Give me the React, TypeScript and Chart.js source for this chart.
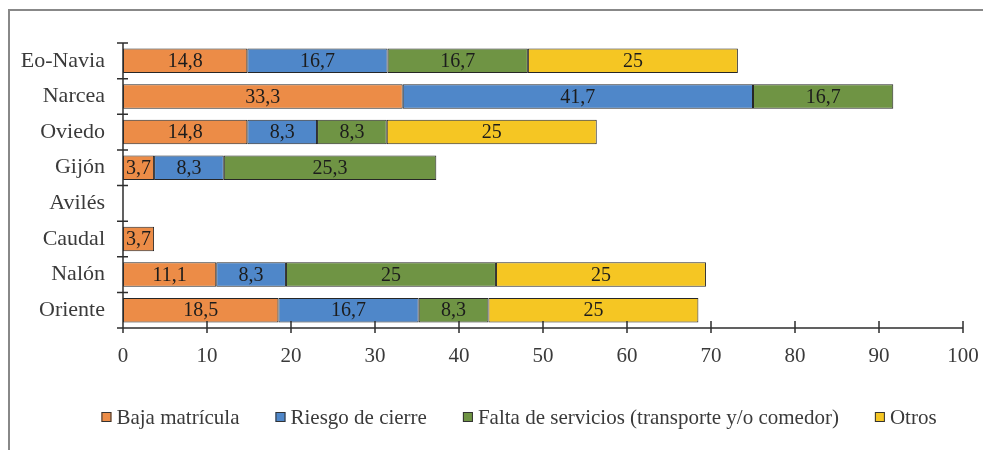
import React, { useEffect, useRef } from "react";
import { Chart, registerables } from "chart.js";
Chart.register(...registerables);

const categories = ["Eo-Navia", "Narcea", "Oviedo", "Gijón", "Avilés", "Caudal", "Nalón", "Oriente"];
const bajaMatricula = [14.8, 33.3, 14.8, 3.7, 0, 3.7, 11.1, 18.5];
const riesgoCierre = [16.7, 41.7, 8.3, 8.3, 0, 0, 8.3, 16.7];
const faltaServicios = [16.7, 16.7, 8.3, 25.3, 0, 0, 25, 8.3];
const otros = [25, 0, 25, 0, 0, 0, 25, 25];
const seriesNames = ["Baja matrícula", "Riesgo de cierre", "Falta de servicios (transporte y/o comedor)", "Otros"];
const seriesValues = [bajaMatricula, riesgoCierre, faltaServicios, otros];
const seriesColors = ["#EC8C47", "#4F87C9", "#6F9444", "#F5C623"];
const xMin = 0;
const xMax = 100;
const xStep = 10;

const FONT = '"Liberation Serif", "Times New Roman", serif';
const TEXT = "#3a3a3a";

const axesPlugin = {
  id: "axesAndLabels",
  afterDatasetsDraw(chart: any) {
    const ctx = chart.ctx;
    const area = chart.chartArea;
    const xs = chart.scales.x;
    const n = categories.length;
    ctx.save();
    // data labels
    ctx.font = `20px ${FONT}`;
    ctx.fillStyle = "#1c1c1c";
    ctx.textAlign = "center";
    ctx.textBaseline = "middle";
    chart.data.datasets.forEach((ds: any, di: number) => {
      const meta = chart.getDatasetMeta(di);
      meta.data.forEach((el: any, i: number) => {
        const v = ds.data[i];
        if (v === null || v === undefined || v <= 0) return;
        const cx = (el.x + el.base) / 2;
        ctx.fillText(String(v).replace(".", ","), cx, el.y + 1);
      });
    });
    // axes
    ctx.strokeStyle = "#2e2e2e";
    ctx.lineWidth = 1.5;
    ctx.beginPath();
    ctx.moveTo(area.left, area.top);
    ctx.lineTo(area.left, area.bottom);
    ctx.moveTo(area.left - 5, area.bottom);
    ctx.lineTo(area.right, area.bottom);
    for (let i = 0; i <= n; i++) {
      const y = area.top + (i * (area.bottom - area.top)) / n;
      ctx.moveTo(area.left - 6, y);
      ctx.lineTo(area.left + 5, y);
    }
    for (let v = xMin; v <= xMax; v += xStep) {
      const x = xs.getPixelForValue(v);
      ctx.moveTo(x, area.bottom - 7);
      ctx.lineTo(x, area.bottom + 5);
    }
    ctx.stroke();
    ctx.restore();
  },
  afterDraw(chart: any) {
    const ctx = chart.ctx;
    ctx.save();
    ctx.font = `21px ${FONT}`;
    ctx.textBaseline = "middle";
    ctx.textAlign = "left";
    const box = 10;
    const gap = 5;
    const itemGap = 36;
    const widths = seriesNames.map((s) => ctx.measureText(s).width);
    const total = widths.reduce((a, w) => a + box + gap + w, 0) + itemGap * (seriesNames.length - 1);
    let x = 509 - total / 2;
    const y = 407;
    seriesNames.forEach((name, i) => {
      ctx.fillStyle = seriesColors[i];
      ctx.fillRect(x, y - 6, box, box);
      ctx.strokeStyle = "#333";
      ctx.lineWidth = 1;
      ctx.strokeRect(x + 0.5, y - 5.5, box - 1, box - 1);
      ctx.fillStyle = TEXT;
      ctx.fillText(name, x + box + gap, y);
      x += box + gap + widths[i] + itemGap;
    });
    ctx.restore();
  },
};

export default function App() {
  const ref = useRef<HTMLCanvasElement>(null);
  useEffect(() => {
    if (!ref.current) return;
    const chart = new Chart(ref.current, {
      type: "bar",
      data: {
        labels: categories,
        datasets: seriesValues.map((vals, i) => ({
          label: seriesNames[i],
          data: vals.map((v) => (v > 0 ? v : null)),
          backgroundColor: seriesColors[i],
          borderColor: "#262626",
          borderWidth: 1,
          borderSkipped: false,
          barPercentage: 0.69,
          categoryPercentage: 1,
        })),
      },
      options: {
        indexAxis: "y",
        animation: false,
        responsive: false,
        devicePixelRatio: 1,
        layout: { padding: { left: 0, right: 20, top: 32, bottom: 0 } },
        plugins: { legend: { display: false }, tooltip: { enabled: false } },
        scales: {
          x: {
            stacked: true,
            min: xMin,
            max: xMax,
            grid: { display: false, drawTicks: false },
            border: { display: false },
            ticks: { stepSize: xStep, font: { family: FONT, size: 21 }, color: TEXT, padding: 16 },
            afterFit: (s: any) => {
              s.height = 122;
              s.paddingLeft = 0;
              s.paddingRight = 0;
            },
          },
          y: {
            stacked: true,
            grid: { display: false, drawTicks: false },
            border: { display: false },
            ticks: { font: { family: FONT, size: 22 }, color: TEXT, padding: 18 },
            afterFit: (s: any) => {
              s.width = 113;
              s.paddingTop = 0;
              s.paddingBottom = 0;
            },
          },
        },
      } as any,
      plugins: [axesPlugin],
    });
    return () => chart.destroy();
  }, []);
  return (
    <div
      style={{
        position: "absolute",
        left: 8,
        top: 9,
        width: 975,
        height: 441,
        borderTop: "2px solid #888",
        borderLeft: "2px solid #888",
        boxSizing: "border-box",
        background: "#fff",
      }}
    >
      <canvas ref={ref} width={973} height={439} style={{ display: "block" }} />
    </div>
  );
}
